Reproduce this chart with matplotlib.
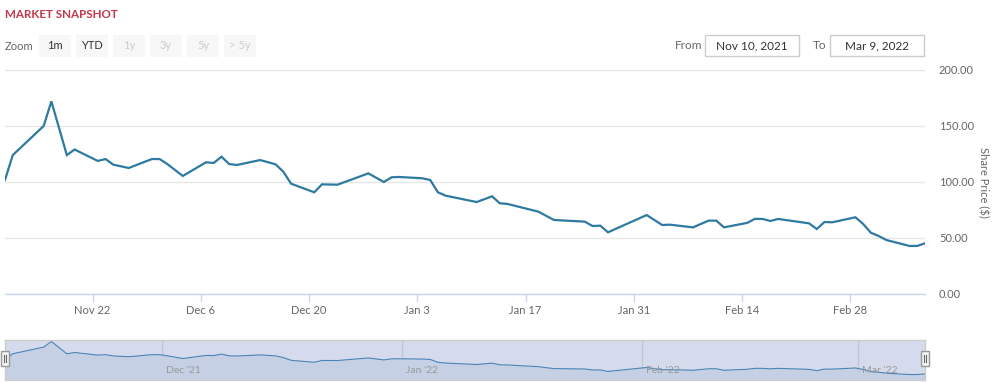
import matplotlib
matplotlib.use("Agg")
import matplotlib.pyplot as plt
import matplotlib.dates as mdates
import pandas as pd
from matplotlib.patches import Rectangle

plt.rcParams['font.family'] = ['Lato', 'DejaVu Sans']

# ---------------- data ----------------
dates = ['2021-11-10', '2021-11-11', '2021-11-15', '2021-11-16', '2021-11-18', '2021-11-19',
         '2021-11-22', '2021-11-23', '2021-11-24', '2021-11-26', '2021-11-29', '2021-11-30',
         '2021-12-01', '2021-12-03', '2021-12-06', '2021-12-07', '2021-12-08', '2021-12-09',
         '2021-12-10', '2021-12-13', '2021-12-15', '2021-12-16', '2021-12-17', '2021-12-20',
         '2021-12-21', '2021-12-23', '2021-12-27', '2021-12-29', '2021-12-30', '2021-12-31',
         '2022-01-03', '2022-01-04', '2022-01-05', '2022-01-06', '2022-01-10', '2022-01-12',
         '2022-01-13', '2022-01-14', '2022-01-18', '2022-01-20', '2022-01-24', '2022-01-25',
         '2022-01-26', '2022-01-27', '2022-02-01', '2022-02-03', '2022-02-04', '2022-02-07',
         '2022-02-09', '2022-02-10', '2022-02-11', '2022-02-14', '2022-02-15', '2022-02-16',
         '2022-02-17', '2022-02-18', '2022-02-22', '2022-02-23', '2022-02-24', '2022-02-25',
         '2022-02-28', '2022-03-01', '2022-03-02', '2022-03-03', '2022-03-04', '2022-03-07',
         '2022-03-08', '2022-03-09']
prices = [101.8, 124.0, 150.0, 172.0, 124.0, 129.0,
          118.8, 120.5, 115.5, 112.5, 120.5, 120.5,
          116.0, 105.4, 117.6, 117.0, 122.6, 116.0,
          115.2, 119.6, 115.8, 109.2, 98.5, 90.8,
          97.9, 97.6, 107.7, 100.0, 104.2, 104.5,
          103.3, 101.8, 90.8, 87.8, 82.1, 87.2,
          81.0, 80.4, 73.5, 66.1, 64.6, 60.7,
          61.0, 55.1, 70.5, 61.6, 61.9, 59.5,
          65.5, 65.5, 59.5, 63.5, 67.1, 67.0,
          65.2, 67.0, 63.1, 58.0, 64.3, 64.0,
          68.5, 62.5, 54.7, 51.8, 48.2, 42.9,
          42.9, 45.3]
close_hour = 16  # timestamps are end-of-day closes
y_ticks = [0, 50, 100, 150, 200]
x_tick_dates = ['2021-11-22', '2021-12-06', '2021-12-20', '2022-01-03', '2022-01-17',
                '2022-01-31', '2022-02-14', '2022-02-28']
nav_months = ['2021-12-01', '2022-01-01', '2022-02-01', '2022-03-01']
nav_labels = ["Dec '21", "Jan '22", "Feb '22", "Mar '22"]
zoom_buttons = ['1m', 'YTD', '1y', '3y', '5y', '> 5y']
zoom_enabled = [True, True, False, False, False, False]
from_date = 'Nov 10, 2021'
to_date = 'Mar 9, 2022'

times = pd.to_datetime(dates) + pd.Timedelta(hours=close_hour)

W, H = 996, 382
fig = plt.figure(figsize=(W / 100, H / 100), dpi=100)
fig.patch.set_facecolor('white')


def fx(x):
    return x / W


def fy(y):
    return 1 - y / H


line_col = '#2e7aa1'
text_col = '#666666'

# ---------------- main chart ----------------
ax = fig.add_axes([fx(5), fy(294), 920 / W, 224 / H])
ax.plot(times, prices, color=line_col, lw=1.6, solid_joinstyle='miter', zorder=3)
ax.set_xlim(times[0], times[-1])
ax.set_ylim(0, 200)
ax.set_yticks(y_ticks)
ax.set_yticklabels([f'{v:.2f}' for v in y_ticks])
ax.yaxis.tick_right()
ax.tick_params(axis='y', length=0, pad=10, labelsize=8, labelcolor=text_col)
ax.grid(axis='y', color='#e6e6e6', lw=1)
ax.set_axisbelow(True)
for s in ['top', 'left', 'right']:
    ax.spines[s].set_visible(False)
ax.spines['bottom'].set_color('#ccd6eb')
ax.spines['bottom'].set_linewidth(1)
xt = pd.to_datetime(x_tick_dates)
ax.set_xticks(xt)
ax.set_xticklabels([f'{d:%b} {d.day}' for d in xt])
ax.tick_params(axis='x', length=6, width=1, color='#ccd6eb', pad=2, labelsize=8,
               labelcolor=text_col)
fig.text(fx(983), fy(182), 'Share Price ($)', rotation=-90, ha='center', va='center',
         fontsize=8, color=text_col)

# ---------------- navigator ----------------
nav = fig.add_axes([fx(5), fy(379.5), 920 / W, 40 / H])
nav.set_facecolor('#d5dbec')
nav.set_xlim(times[0], times[-1])
nav.set_ylim(23.5, 179.8)
nav.fill_between(times, prices, 0, color='#c6d0e4', lw=0)
nav.plot(times, prices, color='#4a84b6', lw=0.8)
for d, lab in zip(pd.to_datetime(nav_months), nav_labels):
    nav.axvline(d, color='#bfc7d8', lw=1, zorder=0.5)
    nav.annotate(lab, (mdates.date2num(d), 0), xycoords=('data', 'axes fraction'),
                 xytext=(3, 3), textcoords='offset points', fontsize=7.5,
                 color='#999999', ha='left', va='bottom')
nav.set_xticks([])
nav.set_yticks([])
for s in nav.spines.values():
    s.set_color('#cccccc')
    s.set_linewidth(1)

# navigator handles
for hx in [5, 925]:
    r = Rectangle((fx(hx - 4), fy(366)), 8 / W, 15 / H, transform=fig.transFigure,
                  facecolor='#f2f2f2', edgecolor='#999999', lw=1, zorder=10)
    fig.add_artist(r)
    for dx in [-1.3, 1.3]:
        fig.add_artist(plt.Line2D([fx(hx + dx), fx(hx + dx)], [fy(362), fy(355)],
                                  transform=fig.transFigure, color='#666666', lw=0.8,
                                  zorder=11))

# ---------------- header ----------------
fig.text(fx(5), fy(14), 'MARKET SNAPSHOT', color='#c3384c', fontsize=8.4, fontweight='bold',
         ha='left', va='center')
fig.text(fx(5), fy(46), 'Zoom', color=text_col, fontsize=8, ha='left', va='center')
bx = 39
for lab, en in zip(zoom_buttons, zoom_enabled):
    fig.add_artist(Rectangle((fx(bx), fy(56.5)), 32 / W, 21.5 / H, transform=fig.transFigure,
                             facecolor='#f7f7f7', edgecolor='none'))
    fig.text(fx(bx + 16), fy(45.5), lab, color='#333333' if en else '#cccccc', fontsize=8,
             ha='center', va='center')
    bx += 37

fig.text(fx(702), fy(45.5), 'From', color=text_col, fontsize=8.5, ha='right', va='center')
fig.add_artist(Rectangle((fx(705), fy(56)), 94 / W, 21 / H, transform=fig.transFigure,
                         facecolor='white', edgecolor='#cccccc', lw=1))
fig.text(fx(752), fy(45.5), from_date, color='#333333', fontsize=8.5, ha='center', va='center')
fig.text(fx(826), fy(45.5), 'To', color=text_col, fontsize=8.5, ha='right', va='center')
fig.add_artist(Rectangle((fx(830), fy(56)), 94 / W, 21 / H, transform=fig.transFigure,
                         facecolor='white', edgecolor='#cccccc', lw=1))
fig.text(fx(877), fy(45.5), to_date, color='#333333', fontsize=8.5, ha='center', va='center')

fig.savefig('out.png', dpi=100)
